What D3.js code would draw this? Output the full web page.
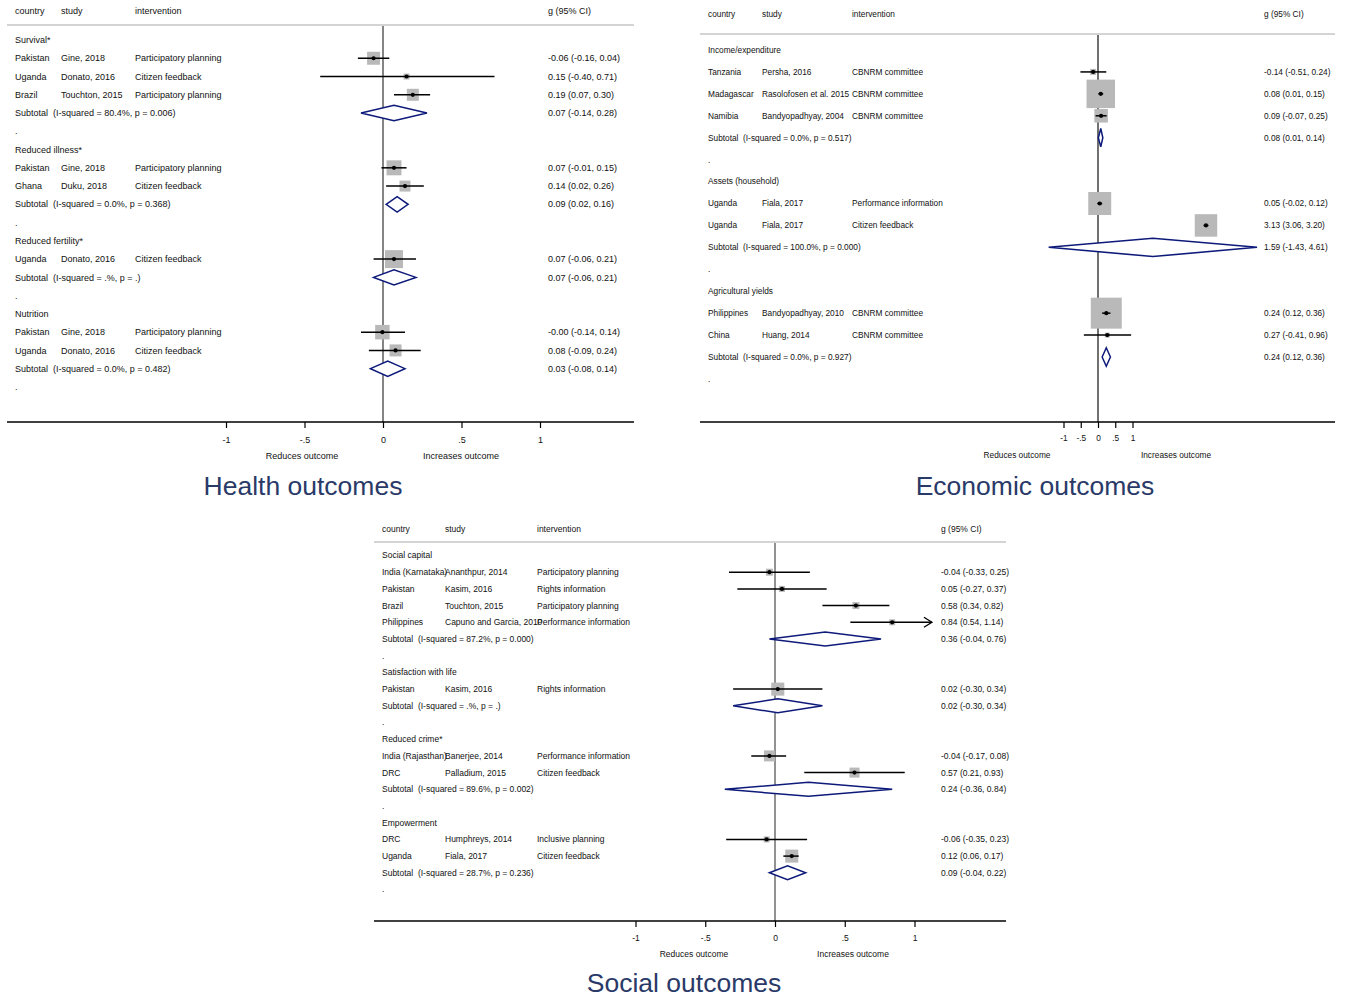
<!DOCTYPE html>
<html>
<head>
<meta charset="utf-8">
<script src="https://cdn.jsdelivr.net/npm/d3@7"></script>
<style>
  html, body { margin: 0; padding: 0; background: #fff; }
  svg { display: block; font-family: "Liberation Sans", Arial, sans-serif; }
</style>
</head>
<body>
<svg id="chart" width="1345" height="998"></svg>
<script>
// ---------- Health outcomes ----------
const healthGroups = ["Survival*", "Reduced illness*", "Reduced fertility*", "Nutrition"];
const healthHet = ["(I-squared = 80.4%, p = 0.006)", "(I-squared = 0.0%, p = 0.368)", "(I-squared = .%, p = .)", "(I-squared = 0.0%, p = 0.482)"];
const healthSubES = [0.07, 0.09, 0.07, 0.03];
const healthSubLo = [-0.14, 0.02, -0.06, -0.08];
const healthSubHi = [0.28, 0.16, 0.21, 0.14];
const healthGroupOf = [0, 0, 0, 1, 1, 2, 3, 3];
const healthCountry = ["Pakistan", "Uganda", "Brazil", "Pakistan", "Ghana", "Uganda", "Pakistan", "Uganda"];
const healthStudy = ["Gine, 2018", "Donato, 2016", "Touchton, 2015", "Gine, 2018", "Duku, 2018", "Donato, 2016", "Gine, 2018", "Donato, 2016"];
const healthIntervention = ["Participatory planning", "Citizen feedback", "Participatory planning", "Participatory planning", "Citizen feedback", "Citizen feedback", "Participatory planning", "Citizen feedback"];
const healthES = [-0.06, 0.15, 0.19, 0.07, 0.14, 0.07, -0.004, 0.08];
const healthLo = [-0.16, -0.40, 0.07, -0.01, 0.02, -0.06, -0.14, -0.09];
const healthHi = [0.04, 0.71, 0.30, 0.15, 0.26, 0.21, 0.14, 0.24];
const healthWeight = [12.3, 2.6, 10.5, 16.4, 8.8, 23.6, 15.3, 10.5];

// ---------- Economic outcomes ----------
const econGroups = ["Income/expenditure", "Assets (household)", "Agricultural yields"];
const econHet = ["(I-squared = 0.0%, p = 0.517)", "(I-squared = 100.0%, p = 0.000)", "(I-squared = 0.0%, p = 0.927)"];
const econSubES = [0.08, 1.59, 0.24];
const econSubLo = [0.01, -1.43, 0.12];
const econSubHi = [0.14, 4.61, 0.36];
const econGroupOf = [0, 0, 0, 1, 1, 2, 2];
const econCountry = ["Tanzania", "Madagascar", "Namibia", "Uganda", "Uganda", "Philippines", "China"];
const econStudy = ["Persha, 2016", "Rasolofosen et al. 2015", "Bandyopadhyay, 2004", "Fiala, 2017", "Fiala, 2017", "Bandyopadhyay, 2010", "Huang, 2014"];
const econIntervention = ["CBNRM committee", "CBNRM committee", "CBNRM committee", "Performance information", "Citizen feedback", "CBNRM committee", "CBNRM committee"];
const econES = [-0.14, 0.08, 0.09, 0.05, 3.13, 0.24, 0.27];
const econLo = [-0.51, 0.01, -0.07, -0.02, 3.06, 0.12, -0.41];
const econHi = [0.24, 0.15, 0.25, 0.12, 3.20, 0.36, 0.96];
const econWeight = [1.2, 26.6, 6.0, 17.3, 16.6, 31.5, 0.8];

// ---------- Social outcomes ----------
const socGroups = ["Social capital", "Satisfaction with life", "Reduced crime*", "Empowerment"];
const socHet = ["(I-squared = 87.2%, p = 0.000)", "(I-squared = .%, p = .)", "(I-squared = 89.6%, p = 0.002)", "(I-squared = 28.7%, p = 0.236)"];
const socSubES = [0.36, 0.02, 0.24, 0.09];
const socSubLo = [-0.04, -0.30, -0.36, -0.04];
const socSubHi = [0.76, 0.34, 0.84, 0.22];
const socGroupOf = [0, 0, 0, 0, 1, 2, 2, 3, 3];
const socCountry = ["India (Karnataka)", "Pakistan", "Brazil", "Philippines", "Pakistan", "India (Rajasthan)", "DRC", "DRC", "Uganda"];
const socStudy = ["Ananthpur, 2014", "Kasim, 2016", "Touchton, 2015", "Capuno and Garcia, 2010", "Kasim, 2016", "Banerjee, 2014", "Palladium, 2015", "Humphreys, 2014", "Fiala, 2017"];
const socIntervention = ["Participatory planning", "Rights information", "Participatory planning", "Performance information", "Rights information", "Performance information", "Citizen feedback", "Inclusive planning", "Citizen feedback"];
const socES = [-0.04, 0.05, 0.58, 0.84, 0.02, -0.04, 0.57, -0.06, 0.12];
const socLo = [-0.33, -0.27, 0.34, 0.54, -0.30, -0.17, 0.21, -0.35, 0.06];
const socHi = [0.25, 0.37, 0.82, 1.14, 0.34, 0.08, 0.93, 0.23, 0.17];
const socWeight = [6.4, 4.7, 6.4, 4.7, 22.1, 15.8, 13.1, 4.7, 22.1];

// Shared axis ticks and header labels
const tickValues = [-1, -0.5, 0, 0.5, 1];
const tickLabels = ["-1", "-.5", "0", ".5", "1"];
const headers = ["country", "study", "intervention"];
const esHeader = "g (95% CI)";
const leftLabel = "Reduces outcome";
const rightLabel = "Increases outcome";

const fmt = v => v.toFixed(2);

function drawForest(svg, d, L) {
  const g = svg.append("g");
  const x = d3.scaleLinear().domain([-1, 1]).range([L.xm1, L.xp1]);
  const box = d3.scaleSqrt().domain([0, 100]).range([0, L.boxMax]);

  // Row layout: group header, studies, subtotal, blank "."
  const rows = [];
  d.groups.forEach((name, gi) => {
    rows.push({ type: "head", text: name });
    d.groupOf.forEach((gg, i) => { if (gg === gi) rows.push({ type: "study", i }); });
    rows.push({ type: "sub", gi });
    rows.push({ type: "dot" });
  });
  const y = i => L.row0 + i * L.step;

  // Column headers and separator
  headers.forEach((h, k) => {
    g.append("text").attr("x", L.cols[k]).attr("y", L.headY).attr("dy", "0.35em")
      .attr("font-size", L.fs).attr("fill", "#111").text(h);
  });
  g.append("text").attr("x", L.esCol).attr("y", L.headY).attr("dy", "0.35em")
    .attr("font-size", L.fs).attr("fill", "#111").text(esHeader);
  g.append("line").attr("x1", L.left).attr("x2", L.right).attr("y1", L.sepY).attr("y2", L.sepY)
    .attr("stroke", "#d4d4d4").attr("stroke-width", 2);

  // Zero reference line
  g.append("line").attr("x1", x(0)).attr("x2", x(0)).attr("y1", L.sepY + 1).attr("y2", L.axisY)
    .attr("stroke", L.zeroColor).attr("stroke-width", L.zeroWidth);

  const txt = (xx, yy, s) => g.append("text").attr("x", xx).attr("y", yy).attr("dy", "0.35em")
    .attr("font-size", L.fs).attr("fill", "#111").style("white-space", "pre").text(s);

  rows.forEach((r, ri) => {
    const yy = y(ri);
    if (r.type === "head") {
      txt(L.cols[0], yy, r.text);
    } else if (r.type === "dot") {
      txt(L.cols[0], yy, ".");
    } else if (r.type === "study") {
      const i = r.i;
      txt(L.cols[0], yy, d.country[i]);
      txt(L.cols[1], yy, d.study[i]);
      txt(L.cols[2], yy, d.intervention[i]);
      txt(L.esCol, yy, `${fmt(d.es[i])} (${fmt(d.lo[i])}, ${fmt(d.hi[i])})`);
      const s = box(d.weight[i]);
      g.append("rect").attr("x", x(d.es[i]) - s / 2).attr("y", yy - s / 2)
        .attr("width", s).attr("height", s).attr("fill", "#b9b9b9");
      const hiC = L.ciMax !== undefined ? Math.min(d.hi[i], L.ciMax) : d.hi[i];
      g.append("line").attr("x1", x(d.lo[i])).attr("x2", x(hiC)).attr("y1", yy).attr("y2", yy)
        .attr("stroke", "#000").attr("stroke-width", 1.5);
      if (L.ciMax !== undefined && d.hi[i] > L.ciMax) {
        const tx = x(hiC);
        g.append("path").attr("d", `M${tx - 8},${yy - 5}L${tx},${yy}L${tx - 8},${yy + 5}`)
          .attr("fill", "none").attr("stroke", "#000").attr("stroke-width", 1.3);
      }
      g.append("circle").attr("cx", x(d.es[i])).attr("cy", yy).attr("r", 2.1).attr("fill", "#000");
    } else if (r.type === "sub") {
      const gi = r.gi;
      txt(L.cols[0], yy, "Subtotal  " + d.het[gi]);
      txt(L.esCol, yy, `${fmt(d.subES[gi])} (${fmt(d.subLo[gi])}, ${fmt(d.subHi[gi])})`);
      const h = L.step * 0.42;
      g.append("path")
        .attr("d", `M${x(d.subLo[gi])},${yy}L${x(d.subES[gi])},${yy - h}L${x(d.subHi[gi])},${yy}L${x(d.subES[gi])},${yy + h}Z`)
        .attr("fill", "#fff").attr("stroke", "#0d1a7a").attr("stroke-width", 1.5);
    }
  });

  // Bottom axis
  g.append("line").attr("x1", L.left).attr("x2", L.right).attr("y1", L.axisY).attr("y2", L.axisY)
    .attr("stroke", "#000").attr("stroke-width", 1.4);
  const ax = g.append("g").attr("transform", `translate(0,${L.axisY})`)
    .call(d3.axisBottom(x).tickValues(tickValues).tickFormat((v, k) => tickLabels[k])
      .tickSize(6).tickPadding(L.tickPad));
  ax.select(".domain").remove();
  ax.selectAll(".tick line").attr("stroke", "#000").attr("stroke-width", 1.2);
  ax.selectAll(".tick text").attr("font-size", L.fs).attr("fill", "#111")
    .attr("font-family", "Liberation Sans, Arial, sans-serif");

  g.append("text").attr("x", x(0) - 81).attr("y", L.axisY + L.outDy).attr("dy", "0.35em")
    .attr("text-anchor", "middle").attr("font-size", L.fs).attr("fill", "#111").text(leftLabel);
  g.append("text").attr("x", x(0) + 78).attr("y", L.axisY + L.outDy).attr("dy", "0.35em")
    .attr("text-anchor", "middle").attr("font-size", L.fs).attr("fill", "#111").text(rightLabel);

  // Panel title
  g.append("text").attr("x", L.titleX).attr("y", L.titleY).attr("text-anchor", "middle")
    .attr("font-size", 26.5).attr("fill", "#2a3a68").text(L.title);
}

const svg = d3.select("#chart");

drawForest(svg, {
  groups: healthGroups, het: healthHet, subES: healthSubES, subLo: healthSubLo, subHi: healthSubHi,
  groupOf: healthGroupOf, country: healthCountry, study: healthStudy, intervention: healthIntervention,
  es: healthES, lo: healthLo, hi: healthHi, weight: healthWeight
}, {
  left: 7, right: 634, headY: 11, sepY: 25, row0: 40, step: 18.26, axisY: 422,
  xm1: 226, xp1: 540, cols: [15, 61, 135], esCol: 548, fs: 9, boxMax: 37,
  zeroColor: "#333", zeroWidth: 1.2, tickPad: 8.8, outDy: 34,
  title: "Health outcomes", titleX: 303, titleY: 495
});

drawForest(svg, {
  groups: econGroups, het: econHet, subES: econSubES, subLo: econSubLo, subHi: econSubHi,
  groupOf: econGroupOf, country: econCountry, study: econStudy, intervention: econIntervention,
  es: econES, lo: econLo, hi: econHi, weight: econWeight
}, {
  left: 700, right: 1335, headY: 14, sepY: 34, row0: 50, step: 21.93, axisY: 422,
  xm1: 1063.5, xp1: 1132.5, cols: [708, 762, 852], esCol: 1264, fs: 8.3, boxMax: 55.2,
  zeroColor: "#111", zeroWidth: 1.2, tickPad: 7, outDy: 33,
  title: "Economic outcomes", titleX: 1035, titleY: 495
});

drawForest(svg, {
  groups: socGroups, het: socHet, subES: socSubES, subLo: socSubLo, subHi: socSubHi,
  groupOf: socGroupOf, country: socCountry, study: socStudy, intervention: socIntervention,
  es: socES, lo: socLo, hi: socHi, weight: socWeight
}, {
  left: 374, right: 1006, headY: 529, sepY: 542, row0: 555.5, step: 16.7, axisY: 921,
  xm1: 635.5, xp1: 914.5, cols: [382, 445, 537], esCol: 941, fs: 8.5, boxMax: 27.7,
  zeroColor: "#777", zeroWidth: 1.6, tickPad: 8, outDy: 33, ciMax: 1.125,
  title: "Social outcomes", titleX: 684, titleY: 992
});
</script>
</body>
</html>
